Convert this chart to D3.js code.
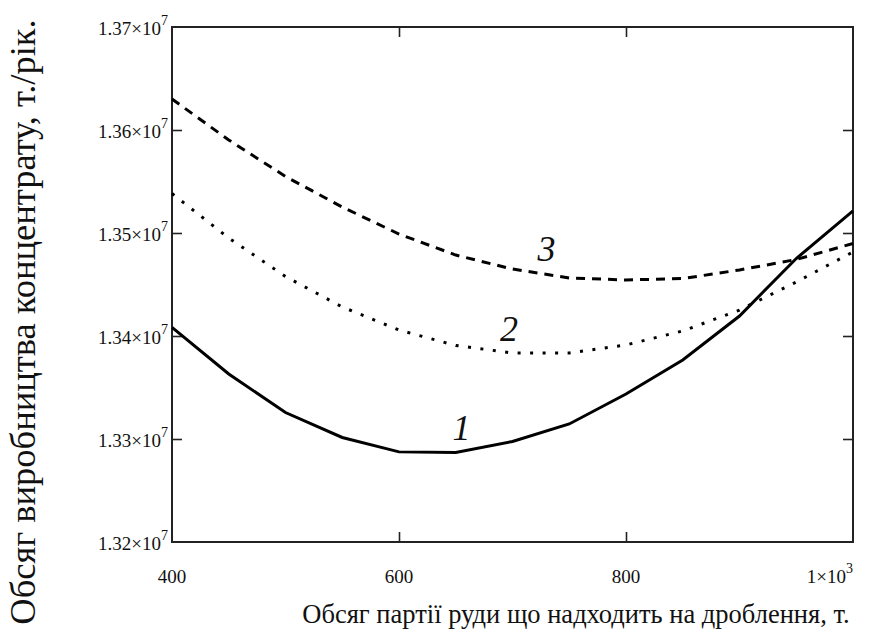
<!DOCTYPE html>
<html>
<head>
<meta charset="utf-8">
<script src="https://cdn.jsdelivr.net/npm/d3@7/dist/d3.min.js"></script>
<style>
  body { margin: 0; background: #fff; }
  svg { display: block; }
  text { font-family: "Liberation Serif", "Times New Roman", serif; fill: #111; }
</style>
</head>
<body>
<svg id="chart" width="889" height="639"></svg>
<script>
// Batch size of ore sent to crushing, t
const batchSize = [400, 450, 500, 550, 600, 650, 700, 750, 800, 850, 900, 950, 1000];

// Annual concentrate output, t/year, for the three variants
const output1 = [13408300, 13363100, 13325700, 13301500, 13287500, 13286900, 13297600, 13314600, 13343700, 13376700, 13419400, 13475200, 13521400];
const output2 = [13538300, 13495100, 13457800, 13428200, 13405800, 13390800, 13383500, 13383500, 13391300, 13404900, 13425200, 13452400, 13481600];
const output3 = [13630100, 13590300, 13554900, 13525200, 13499000, 13478600, 13465000, 13456300, 13454400, 13455800, 13464100, 13474300, 13489800];

// Axis ticks
const xTicks = [400, 600, 800, 1000];
const xTickText = ["400", "600", "800", "1×10"];
const xTickSup = ["", "", "", "3"];
const yTicks = [13200000, 13300000, 13400000, 13500000, 13600000, 13700000];
const yTickText = ["1.32×10", "1.33×10", "1.34×10", "1.35×10", "1.36×10", "1.37×10"];
const yTickSup = ["7", "7", "7", "7", "7", "7"];

// Curve numbers, placed in data coordinates
const curveNames = ["1", "2", "3"];
const curveNameX = [655, 697, 730];
const curveNameY = [13311700, 13407800, 13485400];

const svg = d3.select("#chart");
const plot = { left: 172, top: 27, right: 853, bottom: 542 };

const x = d3.scaleLinear().domain([400, 1000]).range([plot.left, plot.right]);
const y = d3.scaleLinear().domain([13200000, 13700000]).range([plot.bottom, plot.top]);

// Inward ticks on all four sides
const tickLen = 10;
svg.append("g").attr("transform", `translate(0,${plot.bottom})`)
  .call(d3.axisBottom(x).tickValues(xTicks.slice(1, -1)).tickSize(-tickLen).tickFormat(""));
svg.append("g").attr("transform", `translate(0,${plot.top})`)
  .call(d3.axisTop(x).tickValues(xTicks.slice(1, -1)).tickSize(-tickLen).tickFormat(""));
svg.append("g").attr("transform", `translate(${plot.left},0)`)
  .call(d3.axisLeft(y).tickValues(yTicks.slice(1, -1)).tickSize(-tickLen).tickFormat(""));
svg.append("g").attr("transform", `translate(${plot.right},0)`)
  .call(d3.axisRight(y).tickValues(yTicks.slice(1, -1)).tickSize(-tickLen).tickFormat(""));
svg.selectAll(".domain").remove();
svg.selectAll(".tick line").attr("stroke", "#222").attr("stroke-width", 1.6);

// Frame
svg.append("rect")
  .attr("x", plot.left).attr("y", plot.top)
  .attr("width", plot.right - plot.left).attr("height", plot.bottom - plot.top)
  .attr("fill", "none").attr("stroke", "#222").attr("stroke-width", 2);

// Y tick labels with exponent
const yLab = svg.append("g").selectAll("text").data(yTicks).join("text")
  .attr("x", 168).attr("y", d => y(d) + 8)
  .attr("text-anchor", "end")
  .attr("font-size", 19);
yLab.append("tspan").text((d, i) => yTickText[i]);
yLab.append("tspan").attr("dy", -10).attr("font-size", 14).text((d, i) => yTickSup[i]);

// X tick labels
const xLab = svg.append("g").selectAll("text").data(xTicks).join("text")
  .attr("x", (d, i) => i === xTicks.length - 1 ? plot.right : x(d))
  .attr("y", 583)
  .attr("text-anchor", (d, i) => i === xTicks.length - 1 ? "end" : "middle")
  .attr("font-size", 19);
xLab.append("tspan").text((d, i) => xTickText[i]);
xLab.filter((d, i) => xTickSup[i] !== "")
  .append("tspan").attr("dy", -10).attr("font-size", 14).text(d => xTickSup[xTicks.indexOf(d)]);

// Axis titles
svg.append("text")
  .attr("x", 576).attr("y", 623)
  .attr("text-anchor", "middle").attr("font-size", 26.5)
  .text("Обсяг партії руди що надходить на дроблення, т.");
svg.append("text")
  .attr("transform", "translate(35,322) rotate(-90)")
  .attr("text-anchor", "middle").attr("font-size", 36.5)
  .text("Обсяг виробництва концентрату, т./рік.");

// Curves
const line = d3.line().x((d, i) => x(batchSize[i])).y(d => y(d));
svg.append("path").datum(output1).attr("d", line)
  .attr("fill", "none").attr("stroke", "#000").attr("stroke-width", 3);
svg.append("path").datum(output2).attr("d", line)
  .attr("fill", "none").attr("stroke", "#000").attr("stroke-width", 3)
  .attr("stroke-dasharray", "3,9.5");
svg.append("path").datum(output3).attr("d", line)
  .attr("fill", "none").attr("stroke", "#000").attr("stroke-width", 3)
  .attr("stroke-dasharray", "9,7");

// Curve numbers
svg.append("g").selectAll("text").data(curveNames).join("text")
  .attr("x", (d, i) => x(curveNameX[i]))
  .attr("y", (d, i) => y(curveNameY[i]))
  .attr("dy", "0.35em")
  .attr("text-anchor", "middle")
  .attr("font-size", 36).attr("font-style", "italic")
  .text(d => d);
</script>
</body>
</html>
